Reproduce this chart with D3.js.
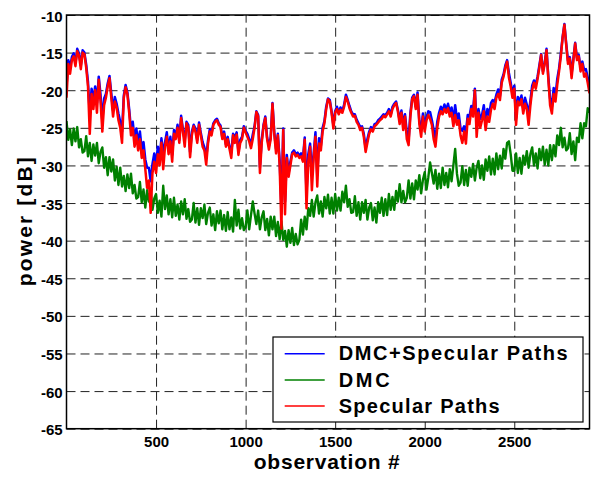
<!DOCTYPE html>
<html>
<head>
<meta charset="utf-8">
<script src="https://cdn.jsdelivr.net/npm/d3@7"></script>
<style>
  body { margin: 0; background: #fff; }
  text { font-family: "Liberation Sans", Arial, sans-serif; font-weight: bold; fill: #000; }
</style>
</head>
<body>
<div id="chart"></div>
<script>
// one value every 10 observations, first one at observation 0
const obsStep = 10;

// DMC+Specular Paths (blue)
const totalPower = [
  -19.5,-16.0,-17.0,-15.6,-15.1,-16.4,-14.5,-15.1,-16.7,-14.7,
  -15.0,-16.6,-18.9,-23.3,-19.8,-21.3,-19.5,-21.7,-18.2,-20.6,
  -24.0,-21.1,-20.5,-19.1,-18.1,-20.4,-22.7,-20.9,-21.8,-23.1,
  -24.2,-25.5,-20.7,-19.3,-20.3,-22.5,-25.2,-24.2,-26.5,-25.1,
  -27.0,-25.5,-27.9,-26.9,-29.2,-30.3,-30.3,-32.1,-29.8,-28.4,
  -29.8,-27.5,-29.1,-26.4,-28.5,-26.9,-25.6,-27.9,-26.2,-28.6,
  -25.3,-26.1,-24.6,-26.6,-23.4,-25.2,-26.7,-24.2,-24.6,-28.2,
  -25.5,-24.6,-25.1,-26.6,-24.3,-25.7,-26.9,-27.6,-29.0,-26.7,
  -25.2,-25.7,-24.4,-24.0,-23.8,-24.4,-24.7,-26.3,-25.5,-27.2,
  -26.2,-27.5,-28.3,-25.8,-26.3,-25.6,-28.2,-26.6,-26.2,-24.8,
  -25.4,-25.8,-26.5,-27.2,-25.9,-24.8,-22.8,-23.3,-30.2,-26.6,
  -24.6,-23.5,-26.3,-27.4,-26.3,-21.7,-25.6,-27.8,-25.8,-29.3,
  -35.7,-25.1,-34.8,-28.6,-31.0,-29.5,-28.3,-28.0,-28.5,-28.3,
  -28.7,-28.4,-29.1,-26.3,-33.7,-28.5,-27.1,-31.1,-28.4,-25.6,
  -31.3,-26.4,-27.4,-25.0,-24.1,-22.2,-21.1,-21.3,-22.8,-24.6,
  -22.8,-22.2,-23.0,-22.3,-22.8,-21.9,-20.6,-21.3,-22.1,-22.8,
  -23.2,-23.2,-23.9,-24.4,-24.9,-24.8,-25.8,-27.7,-26.5,-25.5,
  -24.9,-25.2,-24.5,-24.4,-24.0,-23.8,-23.5,-23.2,-23.3,-23.0,
  -22.5,-23.3,-22.2,-21.8,-21.5,-22.6,-24.0,-22.7,-24.6,-23.2,
  -25.6,-26.6,-23.0,-21.0,-20.6,-22.2,-20.3,-24.1,-25.3,-23.1,
  -24.6,-23.6,-22.8,-22.9,-24.0,-25.3,-26.5,-24.2,-23.0,-22.2,
  -22.7,-21.9,-22.6,-21.8,-22.9,-22.3,-24.1,-22.0,-23.8,-23.1,
  -25.1,-25.4,-24.8,-25.6,-23.3,-23.5,-22.1,-22.7,-19.8,-24.9,
  -22.5,-23.8,-23.3,-22.0,-24.3,-22.5,-23.3,-21.7,-21.3,-21.6,
  -20.6,-19.9,-20.8,-18.6,-17.9,-16.7,-16.0,-17.7,-19.0,-20.5,
  -19.4,-23.7,-20.9,-21.5,-20.7,-22.4,-21.0,-21.9,-23.2,-21.4,
  -19.4,-18.7,-19.2,-18.2,-16.7,-15.2,-17.5,-16.3,-14.5,-18.2,
  -21.1,-22.2,-19.7,-20.8,-18.5,-17.1,-15.1,-12.9,-11.2,-13.8,
  -16.1,-15.6,-17.8,-15.8,-13.7,-15.7,-15.3,-17.0,-16.2,-17.3,
  -17.2,-18.3,-19.4
];

// DMC (green)
const dmcPower = [
  -24.1,-26.6,-25.2,-27.3,-25.1,-26.8,-24.9,-27.6,-26.5,-28.3,
  -28.1,-26.1,-28.8,-27.0,-29.4,-27.2,-28.7,-27.0,-29.7,-28.2,
  -27.6,-30.3,-28.9,-31.3,-28.9,-30.8,-29.2,-32.0,-30.2,-32.6,
  -30.3,-32.8,-31.4,-33.4,-31.2,-33.0,-31.1,-33.7,-32.6,-34.4,
  -34.2,-32.2,-34.9,-33.2,-35.6,-33.3,-34.8,-33.2,-35.9,-34.4,
  -33.8,-36.3,-34.7,-36.8,-32.7,-35.8,-34.0,-36.5,-34.5,-36.9,
  -34.3,-36.7,-35.2,-37.2,-34.8,-36.5,-34.5,-37.1,-35.8,-37.5,
  -37.2,-35.0,-37.6,-35.7,-37.9,-35.7,-37.0,-35.2,-37.8,-36.3,
  -35.6,-38.0,-36.5,-38.6,-36.1,-37.7,-36.0,-38.5,-36.6,-38.7,
  -36.2,-38.5,-36.9,-38.8,-34.6,-38.0,-35.9,-38.4,-37.0,-38.6,
  -38.2,-36.0,-38.5,-36.6,-34.8,-36.4,-37.8,-36.0,-38.5,-36.9,
  -36.1,-38.6,-37.1,-39.3,-36.8,-38.5,-36.8,-39.4,-37.5,-39.8,
  -37.4,-39.9,-38.7,-40.8,-38.6,-40.3,-38.3,-40.6,-39.1,-40.5,
  -39.9,-37.2,-39.2,-36.8,-38.5,-35.7,-36.7,-34.6,-36.8,-34.9,
  -34.0,-36.4,-34.8,-36.8,-34.2,-35.7,-33.9,-36.4,-34.3,-36.4,
  -33.8,-36.0,-34.3,-36.0,-33.5,-34.9,-32.7,-35.5,-34.5,-36.3,
  -36.2,-34.1,-36.7,-34.9,-37.2,-34.9,-36.3,-34.6,-37.2,-35.6,
  -35.0,-37.3,-35.6,-37.6,-34.9,-36.3,-34.3,-36.7,-34.5,-36.6,
  -33.8,-35.9,-34.2,-35.9,-33.4,-34.8,-32.5,-34.9,-33.4,-34.9,
  -34.3,-32.0,-34.4,-32.4,-34.5,-32.0,-33.2,-31.3,-33.7,-31.9,
  -30.9,-33.2,-31.6,-29.6,-31.0,-32.4,-30.6,-33.1,-31.1,-33.0,
  -30.3,-32.6,-31.0,-32.9,-30.5,-32.1,-30.0,-27.8,-31.1,-32.7,
  -32.3,-30.1,-32.6,-30.6,-32.7,-30.3,-31.5,-29.8,-32.0,-30.3,
  -29.4,-31.7,-30.0,-31.9,-29.2,-30.7,-28.8,-31.2,-29.1,-31.2,
  -28.4,-30.5,-28.7,-30.4,-27.8,-29.1,-27.0,-26.8,-28.5,-30.7,
  -30.7,-28.4,-31.0,-29.0,-31.1,-28.7,-29.9,-28.1,-30.3,-28.5,
  -27.6,-30.0,-28.4,-30.4,-27.8,-29.3,-27.5,-29.9,-27.9,-30.0,
  -27.3,-29.3,-27.3,-28.8,-26.0,-27.3,-25.0,-27.6,-26.3,-28.0,
  -27.7,-25.7,-28.5,-26.8,-29.3,-26.3,-26.9,-24.4,-26.4,-24.4,
  -24.8,-22.4,-23.0
];

// Specular Paths (red)
const specularPower = [
  -21.0,-16.5,-17.8,-16.0,-15.5,-16.8,-14.8,-15.4,-17.2,-15.0,
  -15.2,-17.0,-19.5,-25.8,-20.5,-22.5,-20.0,-23.0,-18.6,-21.5,
  -25.5,-22.0,-21.0,-19.5,-18.4,-21.0,-23.5,-21.5,-22.3,-24.0,
  -25.0,-27.0,-21.0,-19.6,-20.5,-23.0,-26.0,-25.0,-27.5,-26.0,
  -28.0,-26.5,-29.0,-28.0,-30.5,-33.0,-32.0,-36.3,-31.0,-29.5,
  -31.0,-28.5,-30.0,-27.0,-30.5,-27.5,-26.2,-28.5,-26.8,-29.5,
  -25.8,-26.5,-25.0,-27.0,-23.7,-25.5,-27.5,-24.4,-25.0,-28.9,
  -26.0,-24.8,-25.5,-27.0,-24.6,-26.0,-27.5,-28.0,-29.9,-27.1,
  -25.5,-26.0,-24.6,-24.2,-24.0,-24.6,-24.9,-26.5,-25.8,-27.5,
  -26.5,-27.8,-29.0,-26.0,-27.0,-25.9,-28.6,-27.0,-26.5,-25.0,
  -25.6,-26.2,-26.8,-27.7,-26.5,-25.0,-22.9,-23.5,-31.0,-27.0,
  -24.8,-23.7,-26.5,-27.9,-26.5,-21.8,-25.8,-28.4,-26.0,-30.0,
  -38.4,-25.3,-36.5,-29.0,-31.5,-30.0,-28.5,-28.3,-28.8,-28.6,
  -29.0,-28.8,-29.5,-26.6,-35.7,-29.5,-27.5,-33.3,-29.0,-26.2,
  -32.8,-27.1,-28.0,-25.5,-24.4,-22.5,-21.2,-21.5,-23.0,-25.1,
  -23.0,-22.5,-23.2,-22.6,-23.0,-22.2,-20.9,-21.5,-22.4,-23.0,
  -23.5,-23.4,-24.2,-24.6,-25.3,-25.0,-26.2,-28.2,-27.0,-25.8,
  -25.2,-25.5,-24.8,-24.6,-24.3,-24.0,-23.8,-23.4,-23.6,-23.2,
  -22.8,-23.5,-22.5,-22.0,-21.7,-22.8,-24.5,-23.0,-25.3,-23.5,
  -26.5,-27.3,-23.5,-21.2,-20.8,-22.5,-20.6,-24.5,-26.2,-23.5,
  -25.5,-24.0,-23.3,-23.8,-24.6,-26.5,-27.5,-25.0,-23.5,-22.8,
  -23.2,-22.5,-23.0,-22.4,-23.5,-23.0,-24.8,-23.3,-24.6,-24.0,
  -26.0,-27.0,-25.5,-27.1,-23.8,-24.5,-22.5,-23.5,-20.0,-26.2,
  -23.0,-25.0,-24.0,-22.8,-25.3,-23.5,-24.2,-22.6,-21.8,-22.5,
  -21.0,-20.5,-21.3,-19.0,-18.2,-17.0,-16.2,-18.3,-19.5,-21.0,
  -19.8,-24.6,-21.5,-22.0,-21.2,-23.1,-21.8,-22.5,-24.6,-22.0,
  -20.0,-19.0,-19.8,-18.5,-17.0,-15.3,-17.8,-16.5,-14.7,-18.5,
  -22.0,-23.1,-20.5,-21.5,-19.3,-17.5,-15.5,-13.0,-11.3,-14.0,
  -16.5,-15.8,-18.4,-16.0,-13.8,-16.0,-15.5,-17.5,-16.5,-18.2,
  -17.8,-19.0,-20.4
];

const seriesNames = ["DMC+Specular Paths", "DMC", "Specular Paths"];
const xTicks = [500, 1000, 1500, 2000, 2500];
const yTicks = [-65, -60, -55, -50, -45, -40, -35, -30, -25, -20, -15, -10];

const margin = {top: 15, right: 8.5, bottom: 49.3, left: 66.5};
const width = 523, height = 413.7;

const svg = d3.select("#chart").append("svg")
    .attr("width", width + margin.left + margin.right)
    .attr("height", height + margin.top + margin.bottom)
    .append("g")
    .attr("transform", "translate(" + margin.left + "," + margin.top + ")");

const x = d3.scaleLinear().domain([0, 2920]).range([0, width]);
const y = d3.scaleLinear().domain([-65, -10]).range([height, 0]);

const color = d3.scaleOrdinal()
    .domain(seriesNames)
    .range(["#0000ff", "#008000", "#ff0000"]);

// dashed grid
const gridX = svg.append("g")
    .attr("transform", "translate(0," + height + ")")
    .call(d3.axisBottom(x).tickValues(xTicks).tickSize(-height).tickFormat(""));
const gridY = svg.append("g")
    .call(d3.axisLeft(y).tickValues(yTicks).tickSize(-width).tickFormat(""));
[gridX, gridY].forEach(function(g) {
    g.select(".domain").remove();
    g.selectAll("line")
        .attr("stroke", "#222")
        .attr("stroke-width", 1)
        .attr("stroke-dasharray", "9,5");
});

// tick labels (plain hyphen minus, no thousands separator)
const plain = d => String(d);
const axisX = svg.append("g")
    .attr("transform", "translate(0," + height + ")")
    .call(d3.axisBottom(x).tickValues(xTicks).tickFormat(plain).tickSize(0).tickPadding(7.5));
const axisY = svg.append("g")
    .call(d3.axisLeft(y).tickValues(yTicks).tickFormat(plain).tickSize(0).tickPadding(3.8));
[axisX, axisY].forEach(function(g) {
    g.attr("font-family", null);
    g.select(".domain").remove();
    g.selectAll("text")
        .style("font-size", "15px")
        .attr("fill", "#000");
});
axisY.selectAll("text").attr("dy", "0.4em");

// data lines
svg.append("clipPath").attr("id", "plot-clip")
    .append("rect").attr("width", width).attr("height", height);

const line = d3.line()
    .x((d, i) => x(i * obsStep))
    .y(d => y(d));

const series = [totalPower, dmcPower, specularPower];
svg.append("g").attr("clip-path", "url(#plot-clip)")
    .selectAll("path")
    .data(series)
    .enter().append("path")
    .attr("d", line)
    .attr("fill", "none")
    .attr("stroke", (d, i) => color(seriesNames[i]))
    .attr("stroke-width", (d, i) => i === 1 ? 2.4 : 2.5)
    .attr("stroke-linejoin", "round");

// frame
svg.append("rect")
    .attr("width", width)
    .attr("height", height)
    .attr("fill", "none")
    .attr("stroke", "#000")
    .attr("stroke-width", 1.5);

// axis titles
svg.append("text")
    .attr("x", 326.7 - margin.left)
    .attr("y", 469.3 - margin.top)
    .attr("text-anchor", "middle")
    .attr("textLength", 146)
    .attr("lengthAdjust", "spacing")
    .style("font-size", "21px")
    .text("observation #");

svg.append("text")
    .attr("transform", "translate(" + (32 - margin.left) + "," + (221.7 - margin.top) + ") rotate(-90)")
    .attr("text-anchor", "middle")
    .attr("textLength", 129)
    .attr("lengthAdjust", "spacing")
    .style("font-size", "21px")
    .text("power [dB]");

// legend
const legendBox = svg.append("g")
    .attr("transform", "translate(" + (273 - margin.left) + "," + (337 - margin.top) + ")");

legendBox.append("rect")
    .attr("width", 310)
    .attr("height", 85)
    .attr("fill", "#fff")
    .attr("stroke", "#000")
    .attr("stroke-width", 1.2);

const legendWidths = [229, 51, 161];
const legend = legendBox.selectAll(".legend")
    .data(seriesNames)
    .enter().append("g")
    .attr("class", "legend")
    .attr("transform", (d, i) => "translate(0," + (16.7 + i * 26.2) + ")");

legend.append("line")
    .attr("x1", 11.7)
    .attr("x2", 51.7)
    .attr("stroke", d => color(d))
    .attr("stroke-width", 1.5);

legend.append("text")
    .attr("x", 65.7)
    .attr("y", 6.7)
    .attr("textLength", (d, i) => legendWidths[i])
    .attr("lengthAdjust", "spacing")
    .style("font-size", "20px")
    .text(d => d);
</script>
</body>
</html>
